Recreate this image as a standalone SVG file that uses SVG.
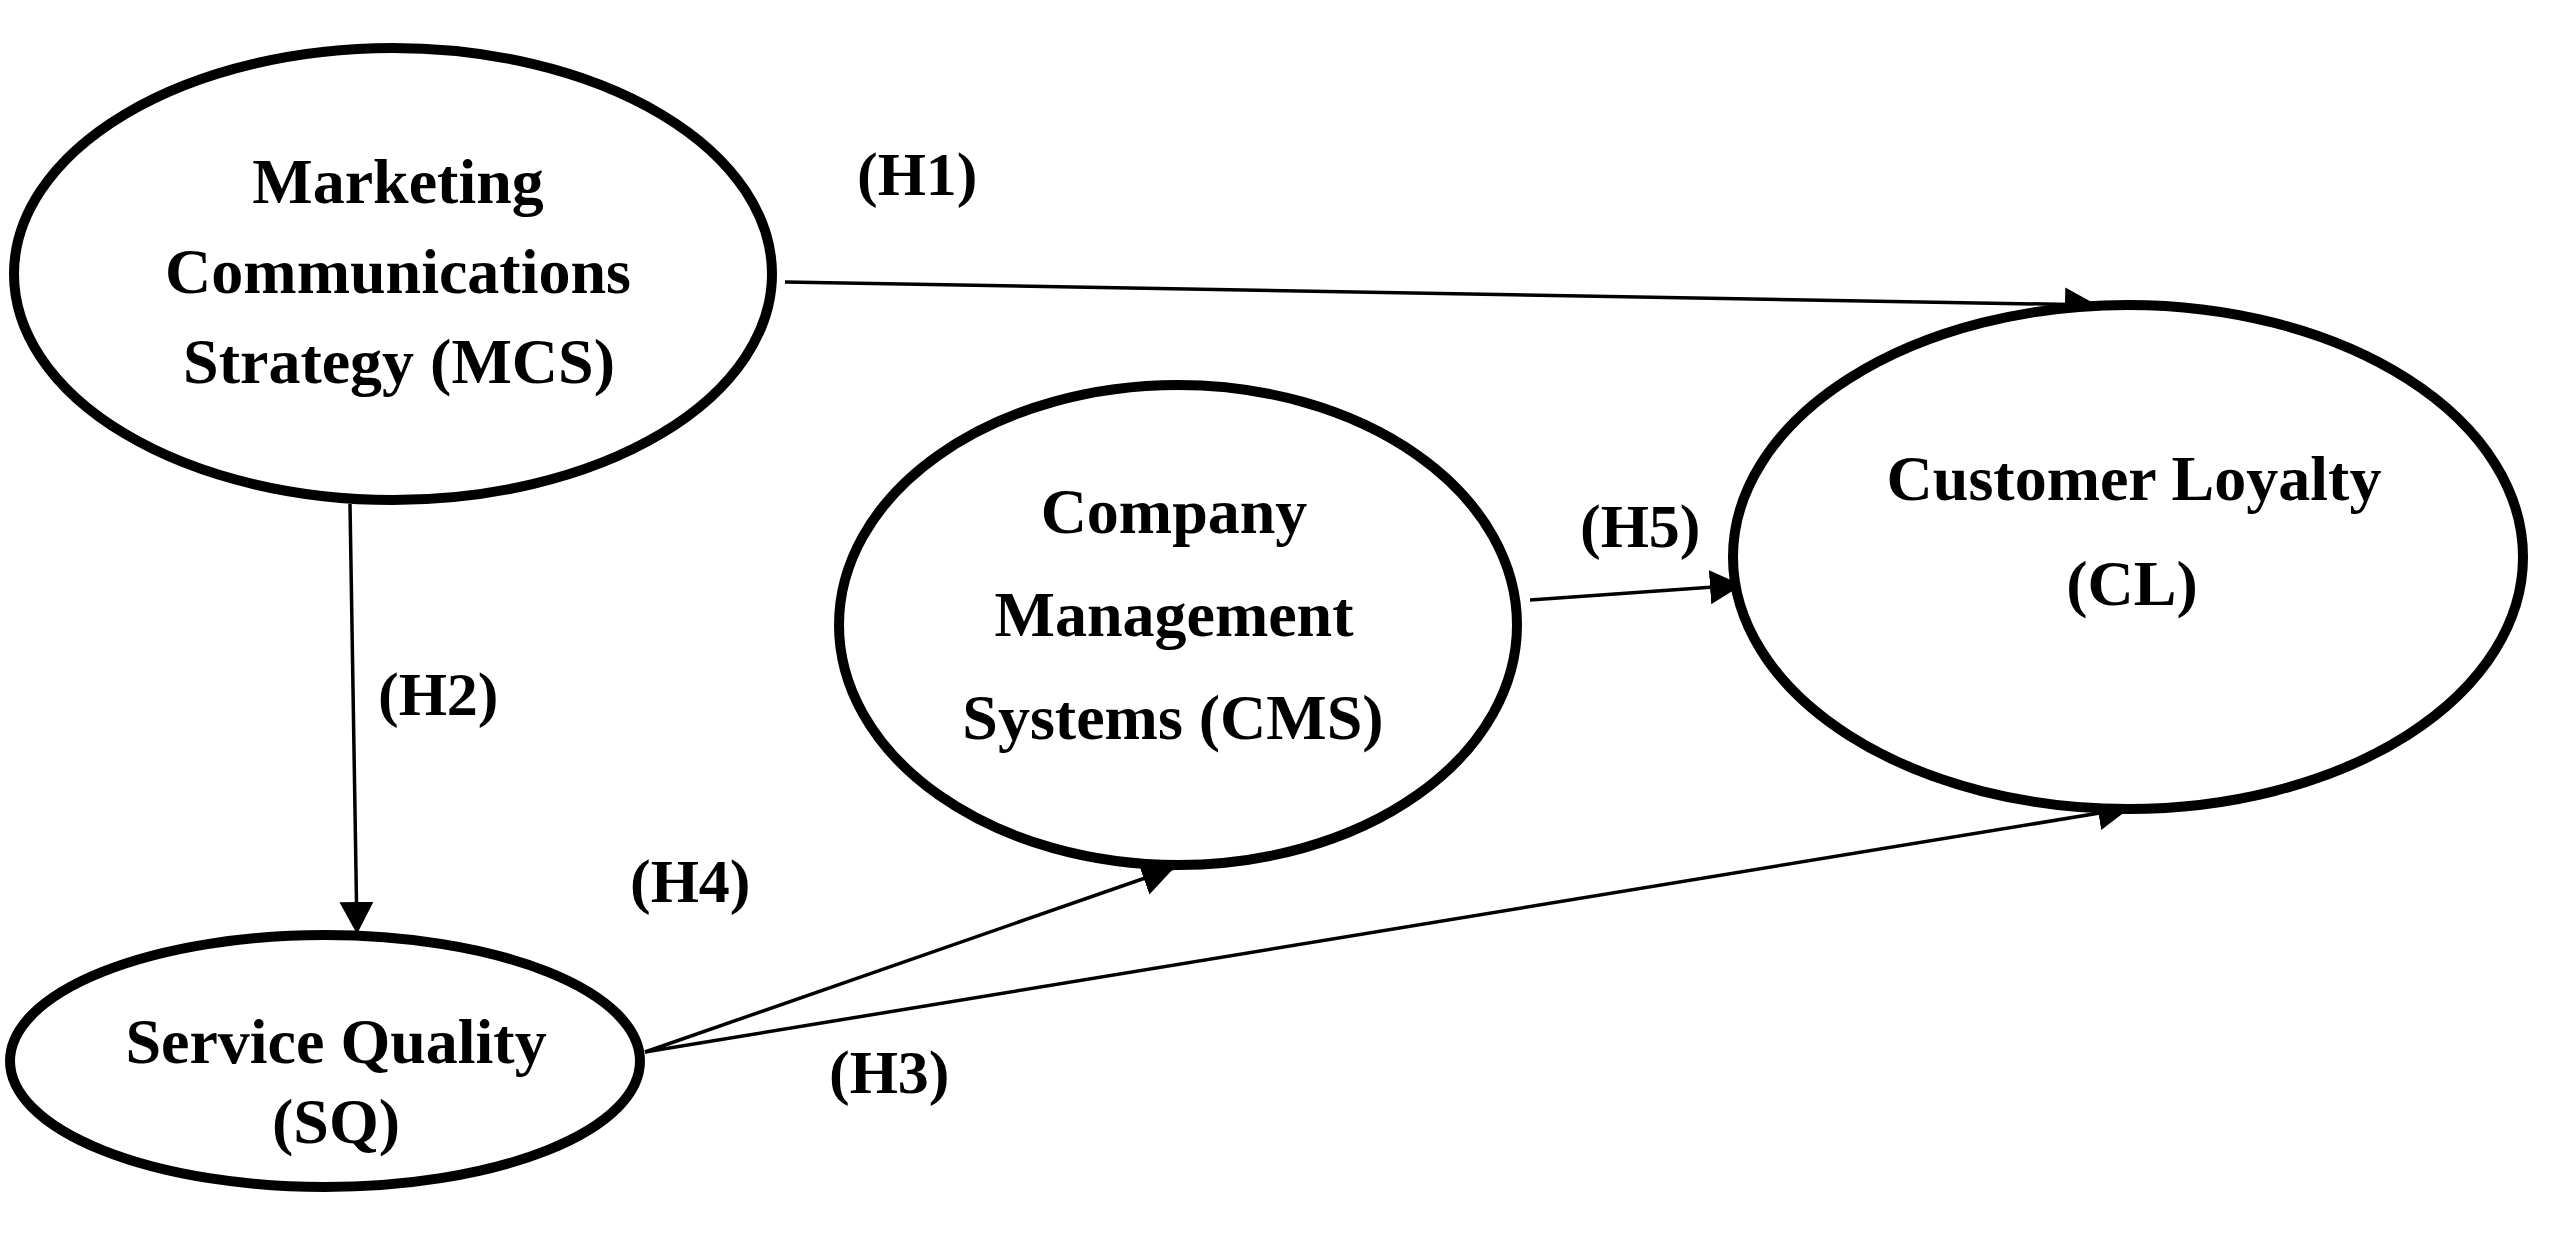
<svg xmlns="http://www.w3.org/2000/svg" width="2550" height="1253" viewBox="0 0 2550 1253">
<style>
.node{fill:#fff;stroke:#000;stroke-width:10}
.t{font-family:"Liberation Serif","Times New Roman",serif;font-weight:bold;font-size:64px;fill:#000;text-anchor:middle}
.lab{font-family:"Liberation Serif","Times New Roman",serif;font-weight:bold;font-size:62px;fill:#000}
.edge{stroke:#000;stroke-width:3.5;fill:none;marker-end:url(#ah)}
</style>
<defs>
<marker id="ah" markerUnits="userSpaceOnUse" markerWidth="34" markerHeight="34" refX="32" refY="17" orient="auto">
<path d="M0,0 L32,17 L0,34 z" fill="#000"/>
</marker>
</defs>
<rect width="2550" height="1253" fill="#fff"/>
<g id="connectors">
<line class="edge" x1="785" y1="282" x2="2097" y2="305"/>
<line class="edge" x1="350" y1="504" x2="357" y2="934"/>
<line class="edge" x1="645" y1="1052" x2="1174" y2="868"/>
<line class="edge" x1="645" y1="1052" x2="2130" y2="808"/>
<line class="edge" x1="1530" y1="600" x2="1742" y2="585"/>
</g>
<g id="MCS">
<ellipse class="node" cx="393" cy="274" rx="379" ry="226"/>
<text class="t" x="398" y="203">Marketing</text>
<text class="t" x="398" y="293">Communications</text>
<text class="t" x="399" y="383">Strategy (MCS)</text>
</g>
<g id="CMS">
<ellipse class="node" cx="1178" cy="625" rx="339" ry="240"/>
<text class="t" x="1174" y="533">Company</text>
<text class="t" x="1174" y="636">Management</text>
<text class="t" x="1173" y="739">Systems (CMS)</text>
</g>
<g id="CL">
<ellipse class="node" cx="2128" cy="557" rx="395" ry="252"/>
<text class="t" x="2134" y="500">Customer Loyalty</text>
<text class="t" x="2132" y="605">(CL)</text>
</g>
<g id="SQ">
<ellipse class="node" cx="325" cy="1061" rx="315" ry="126"/>
<text class="t" x="336" y="1063">Service Quality</text>
<text class="t" x="336" y="1143">(SQ)</text>
</g>
<g id="labels">
<text class="lab" x="857" y="195">(H1)</text>
<text class="lab" x="378" y="715">(H2)</text>
<text class="lab" x="829" y="1093">(H3)</text>
<text class="lab" x="630" y="902">(H4)</text>
<text class="lab" x="1580" y="547">(H5)</text>
</g>
</svg>
